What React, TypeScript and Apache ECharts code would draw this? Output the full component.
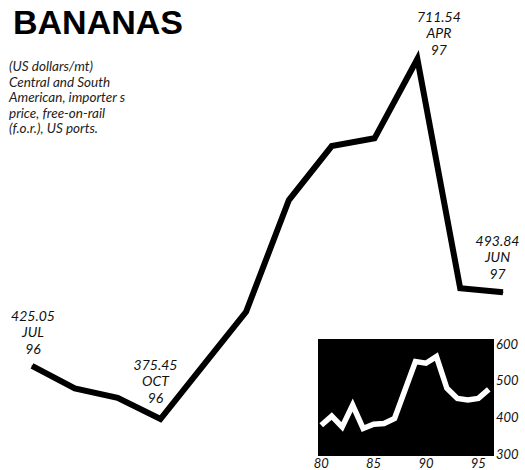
import React, { useEffect, useRef } from 'react';
import * as echarts from 'echarts';

// Main chart: monthly price, Jul 1996 – Jun 1997 (US dollars/mt)
const months = ['JUL', 'AUG', 'SEP', 'OCT', 'NOV', 'DEC', 'JAN', 'FEB', 'MAR', 'APR', 'MAY', 'JUN'];
const monthYears = ['96', '96', '96', '96', '96', '96', '97', '97', '97', '97', '97', '97'];
const prices = [425.05, 404.1, 395.3, 375.45, 425.5, 475.6, 579.9, 630.3, 637.5, 711.54, 497.5, 493.84];
const labelledMonths = ['JUL', 'OCT', 'APR', 'JUN'];

// Inset: annual price 1980 – 1996
const insetYears = [1980, 1981, 1982, 1983, 1984, 1985, 1986, 1987, 1988, 1989, 1990, 1991, 1992, 1993, 1994, 1995, 1996];
const insetPrices = [378, 402.8, 373.6, 432.8, 369.3, 381, 382.9, 396.5, 473.7, 550.9, 546.5, 564.5, 478.3, 451, 446.4, 451, 475.6];
const insetYMin = 300;
const insetYMax = 600;
const insetYStep = 100;

const title = 'BANANAS';
const subtitleLines = [
  '(US dollars/mt)',
  'Central and South',
  'American, importer s',
  'price, free-on-rail',
  '(f.o.r.), US ports.',
];

const labelOffsets: Record<string, { dx: number; dist: number }> = {
  JUL: { dx: 1, dist: 9 },
  OCT: { dx: -5, dist: 13 },
  APR: { dx: 21.5, dist: 1 },
  JUN: { dx: -5.5, dist: 10 },
};

export default function App() {
  const ref = useRef<HTMLDivElement>(null);

  useEffect(() => {
    if (!ref.current) return;
    const chart = echarts.init(ref.current, undefined, { renderer: 'svg' });

    const mainData = prices.map((v, i) => {
      const m = months[i];
      if (!labelledMonths.includes(m)) return v;
      const o = labelOffsets[m];
      return {
        value: v,
        label: {
          show: true,
          position: 'top',
          distance: o.dist,
          offset: [o.dx, 0],
          formatter: `${v.toFixed(2)}\n${m}\n${monthYears[i]}`,
          fontFamily: 'Lato',
          fontStyle: 'italic',
          fontSize: 14,
          lineHeight: 16.5,
          color: '#111',
          align: 'center',
        },
      };
    });

    const italicLabel = {
      fontFamily: 'Lato',
      fontStyle: 'italic',
      fontSize: 13,
      color: '#111',
    };

    chart.setOption({
      animation: false,
      backgroundColor: '#fff',
      grid: [
        { left: 32, right: 22, top: 17.8, height: 428.5 },
        { left: 316, width: 178, top: 343.5, height: 110.5 },
      ],
      xAxis: [
        { type: 'category', gridIndex: 0, data: months, boundaryGap: false, show: false },
        {
          type: 'category',
          gridIndex: 1,
          data: insetYears,
          boundaryGap: true,
          axisLine: { show: false },
          axisTick: { show: false },
          axisLabel: {
            ...italicLabel,
            interval: 4,
            margin: 2,
            formatter: (v: string) => String(v).slice(2),
          },
        },
      ],
      yAxis: [
        { type: 'value', gridIndex: 0, min: 350, max: 750, show: false, splitLine: { show: false } },
        {
          type: 'value',
          gridIndex: 1,
          position: 'right',
          min: insetYMin,
          max: insetYMax,
          interval: insetYStep,
          splitLine: { show: false },
          axisLine: { show: false },
          axisTick: { show: false },
          axisLabel: { ...italicLabel, margin: 2 },
        },
      ],
      graphic: [
        {
          type: 'rect',
          z: 0,
          shape: { x: 318, y: 339, width: 176, height: 117 },
          style: { fill: '#000' },
        },
        {
          type: 'text',
          x: 13,
          y: 22,
          style: {
            text: title,
            fontFamily: 'Liberation Sans',
            fontWeight: 'bold',
            fontSize: 34,
            fill: '#000',
            verticalAlign: 'middle',
          },
        },
        {
          type: 'text',
          x: 9,
          y: 58.2,
          style: {
            text: subtitleLines.join('\n'),
            fontFamily: 'Lato',
            fontStyle: 'italic',
            fontSize: 13.5,
            lineHeight: 15.6,
            fill: '#222',
            verticalAlign: 'top',
          },
        },
      ],
      series: [
        {
          type: 'line',
          xAxisIndex: 0,
          yAxisIndex: 0,
          data: mainData,
          symbol: 'circle',
          symbolSize: 1,
          itemStyle: { color: '#000' },
          lineStyle: { color: '#000', width: 6, join: 'miter', cap: 'butt' },
          z: 3,
        },
        {
          type: 'line',
          xAxisIndex: 1,
          yAxisIndex: 1,
          data: insetPrices,
          symbol: 'none',
          lineStyle: { color: '#fff', width: 5.5, join: 'miter' },
          z: 4,
        },
      ],
    });

    return () => chart.dispose();
  }, []);

  return (
    <div
      ref={ref}
      style={{ position: 'absolute', left: 0, top: 0, width: 525, height: 470 }}
    />
  );
}
